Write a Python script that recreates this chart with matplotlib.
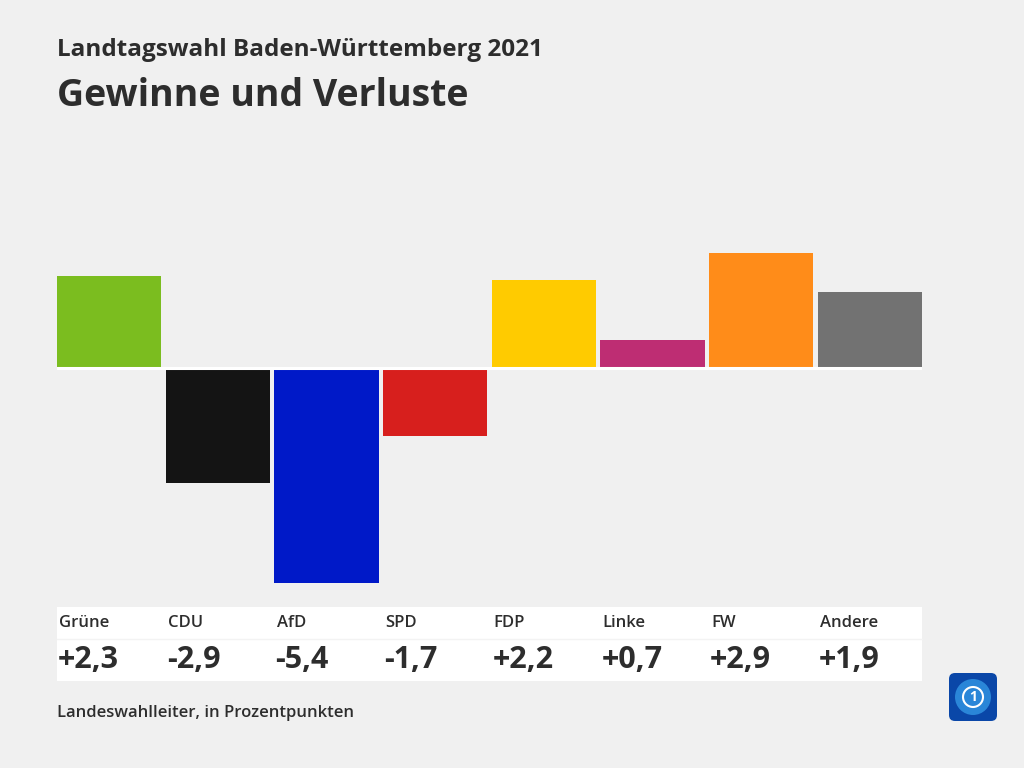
import matplotlib
matplotlib.use("Agg")
import matplotlib.pyplot as plt
from matplotlib.patches import Rectangle, FancyBboxPatch, Circle
from matplotlib.transforms import blended_transform_factory

parties = ["Grüne", "CDU", "AfD", "SPD", "FDP", "Linke", "FW", "Andere"]
values = [2.3, -2.9, -5.4, -1.7, 2.2, 0.7, 2.9, 1.9]
labels = ["+2,3", "-2,9", "-5,4", "-1,7", "+2,2", "+0,7", "+2,9", "+1,9"]
colors = ["#7bbd1f", "#141414", "#0019c8", "#d71f1d",
          "#ffcb00", "#be2d73", "#ff8c19", "#727272"]

bg = "#f0f0f0"
dark = "#2d2d2d"
font = "Open Sans"

W, H = 1024, 768
fig = plt.figure(figsize=(W / 100, H / 100), dpi=100, facecolor=bg)

# overlay in pixel coordinates for text and decorations
over = fig.add_axes([0, 0, 1, 1], facecolor="none")
over.set_xlim(0, W)
over.set_ylim(H, 0)
over.axis("off")

# bar axes: x 57..922 px, y 150..600 px, zero at ~368.5 px, 39.8 px per point
px_per_unit = 39.8
top, bottom, zero = 150, 600, 368
ax = fig.add_axes([57 / W, 1 - bottom / H, 865 / W, (bottom - top) / H],
                  facecolor="none")
ax.set_ylim(-(bottom - zero) / px_per_unit, (zero - top) / px_per_unit)
ax.set_xlim(-0.48, 7.48)
ax.bar(range(len(values)), values, width=0.96, color=colors, linewidth=0)
ax.axhline(0, color="white", linewidth=2.2)
ax.axis("off")

# titles
over.text(57, 50, "Landtagswahl Baden-Württemberg 2021", fontsize=17.5,
          fontweight="bold", family=font, color=dark, va="center", ha="left")
over.text(57, 96, "Gewinne und Verluste", fontsize=27,
          fontweight="bold", family=font, color=dark, va="center", ha="left")

# value table
over.add_patch(Rectangle((57, 607), 865, 74, facecolor="white", edgecolor="none"))
over.plot([57, 922], [639, 639], color="#f3f3f3", linewidth=1)
tr = blended_transform_factory(ax.transData, over.transData)
for i, (p, lab) in enumerate(zip(parties, labels)):
    over.text(i - 0.46, 623, p, transform=tr, fontsize=12, fontweight="semibold",
              family=font, color=dark, va="center", ha="left")
    over.text(i - 0.47, 660, lab, transform=tr, fontsize=22, fontweight="bold",
              family=font, color=dark, va="center", ha="left")

# source
over.text(57, 713, "Landeswahlleiter, in Prozentpunkten", fontsize=12,
          fontweight="semibold", family=font, color=dark, va="center", ha="left")

# logo
over.add_patch(FancyBboxPatch((949, 673), 48, 48,
                              boxstyle="round,pad=0,rounding_size=6",
                              facecolor="#0a47a8", edgecolor="none"))
over.add_patch(Circle((973, 697), 18, facecolor="#2a86d8", edgecolor="none"))
over.add_patch(Circle((973, 697), 10, facecolor="none", edgecolor="white",
                      linewidth=1.5))
over.text(973, 697, "1", fontsize=10, fontweight="bold", color="white",
          ha="center", va="center", family=font)

fig.savefig("out.png", dpi=100, facecolor=bg)
